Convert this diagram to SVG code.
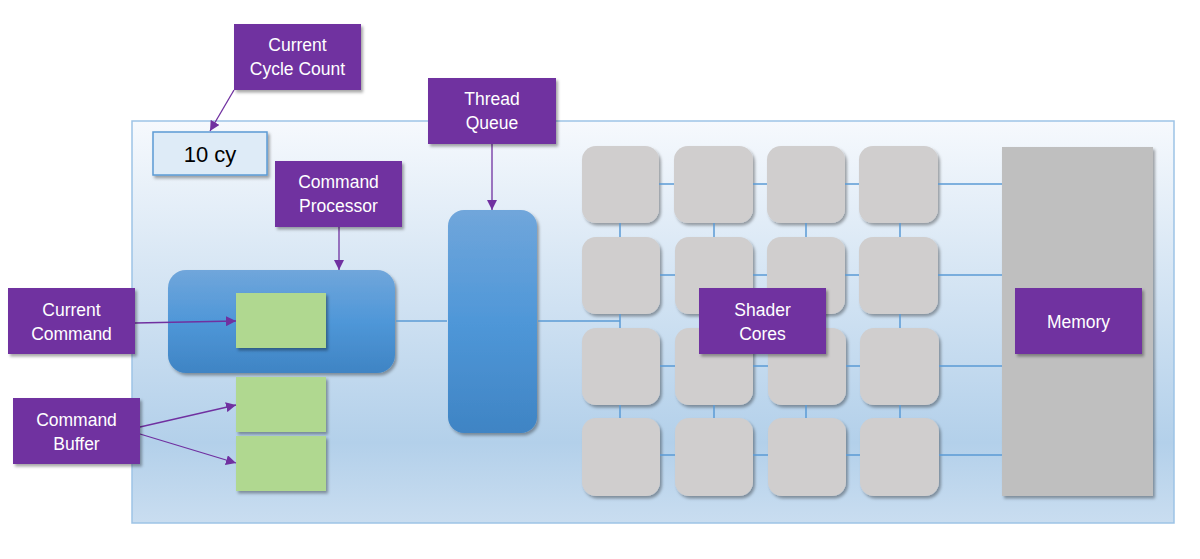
<svg xmlns="http://www.w3.org/2000/svg" width="1200" height="559" viewBox="0 0 1200 559">
<defs>
<linearGradient id="bg" x1="0" y1="0" x2="0" y2="1">
<stop offset="0" stop-color="#f6f9fd"/>
<stop offset="0.8" stop-color="#b3d0ea"/>
<stop offset="1" stop-color="#c9ddf0"/>
</linearGradient>
<linearGradient id="blue" x1="0" y1="0" x2="0" y2="1">
<stop offset="0" stop-color="#70a6db"/>
<stop offset="0.5" stop-color="#4f97d8"/>
<stop offset="1" stop-color="#3f84c4"/>
</linearGradient>
<filter id="sh" x="-10%" y="-10%" width="130%" height="130%">
<feDropShadow dx="2" dy="2.5" stdDeviation="1.5" flood-color="#000" flood-opacity="0.35"/>
</filter>
<marker id="ah" viewBox="0 0 10 10" refX="10" refY="5" markerWidth="10" markerHeight="10" markerUnits="userSpaceOnUse" orient="auto">
<path d="M0,0 L10,5 L0,10 z" fill="#7030a0"/>
</marker>
<style>
.lbl{fill:#7030a0;filter:url(#sh)}
.lt{fill:#fff;font-family:"Liberation Sans","Noto Sans",sans-serif;font-size:17.5px;text-anchor:middle}
.core{fill:#d0cece;filter:url(#sh)}
.grn{fill:#b0d890;filter:url(#sh)}
.wire{stroke:#5b9bd5;stroke-width:1.5;fill:none}
.arr{stroke:#7030a0;stroke-width:1.3;fill:none;marker-end:url(#ah)}
</style>
</defs>
<rect x="0" y="0" width="1200" height="559" fill="#fff"/>
<g id="container">
<rect x="132" y="121" width="1042" height="402" fill="url(#bg)" stroke="#9dc3e6" stroke-width="1.5"/>
</g>
<g id="memory">
<rect x="1002" y="147" width="151" height="349" fill="#bfbfbf" filter="url(#sh)"/>
</g>
<g id="shader-cores">
<rect class="core" x="582" y="146" width="77" height="77" rx="14"/>
<rect class="core" x="674" y="146" width="79" height="77" rx="14"/>
<rect class="core" x="767" y="146" width="78" height="77" rx="14"/>
<rect class="core" x="859" y="146" width="79" height="77" rx="14"/>
<rect class="core" x="582" y="237" width="78" height="77" rx="14"/>
<rect class="core" x="675" y="237" width="78" height="77" rx="14"/>
<rect class="core" x="767" y="237" width="78" height="77" rx="14"/>
<rect class="core" x="859" y="237" width="79" height="77" rx="14"/>
<rect class="core" x="582" y="328" width="78" height="77" rx="14"/>
<rect class="core" x="675" y="328" width="78" height="77" rx="14"/>
<rect class="core" x="768" y="328" width="78" height="77" rx="14"/>
<rect class="core" x="860" y="328" width="79" height="77" rx="14"/>
<rect class="core" x="582" y="418" width="78" height="78" rx="14"/>
<rect class="core" x="675" y="418" width="78" height="78" rx="14"/>
<rect class="core" x="768" y="418" width="78" height="78" rx="14"/>
<rect class="core" x="860" y="418" width="79" height="78" rx="14"/>
</g>
<g id="thread-queue">
<rect x="448" y="210" width="89" height="223" rx="16" fill="url(#blue)" filter="url(#sh)"/>
</g>
<g id="command-processor">
<rect x="168" y="270" width="227" height="103" rx="18" fill="url(#blue)" filter="url(#sh)"/>
</g>
<g id="command-slots">
<rect class="grn" x="236" y="293" width="90" height="55"/>
<rect class="grn" x="236" y="377" width="90" height="55"/>
<rect class="grn" x="236" y="436" width="90" height="55"/>
</g>
<g id="cycle-counter">
<rect x="153" y="132" width="114" height="43" fill="#deebf7" stroke="#5b9bd5" stroke-width="1.5" filter="url(#sh)"/>
<text x="210" y="162" font-family="'Liberation Sans','Noto Sans',sans-serif" font-size="22" text-anchor="middle" fill="#000">10 cy</text>
</g>
<g id="connectors">
<path class="wire" d="M396,321 H447"/>
<path class="wire" d="M538,321 H620"/>
<path class="wire" d="M620,223 V237 M620,314 V328 M620,405 V418 M714,223 V237 M714,314 V328 M714,405 V418 M806,223 V237 M806,314 V328 M806,405 V418 M900,223 V237 M900,314 V328 M900,405 V418"/>
<path class="wire" d="M659,184 H674 M753,184 H767 M845,184 H859 M938,184 H1002 M660,275 H675 M753,275 H767 M845,275 H859 M938,275 H1002 M660,366 H675 M753,366 H768 M846,366 H860 M939,366 H1002 M660,455 H675 M753,455 H768 M846,455 H860 M939,455 H1002"/>
<path class="arr" d="M234,90 L210,131"/>
<path class="arr" d="M339,227 L339,270"/>
<path class="arr" d="M492,144 L492,210"/>
<path class="arr" d="M135,323 L236,321"/>
<path class="arr" d="M140,427 L236,405"/>
<path class="arr" d="M140,434 L236,463"/>
</g>
<g id="label-cycle-count">
<rect class="lbl" x="234" y="24" width="127" height="66"/>
<text class="lt" x="297.5" y="51">Current</text>
<text class="lt" x="297.5" y="75">Cycle Count</text>
</g>
<g id="label-command-processor">
<rect class="lbl" x="275" y="161" width="127" height="66"/>
<text class="lt" x="338.5" y="188">Command</text>
<text class="lt" x="338.5" y="212">Processor</text>
</g>
<g id="label-thread-queue">
<rect class="lbl" x="428" y="78" width="128" height="66"/>
<text class="lt" x="492" y="105">Thread</text>
<text class="lt" x="492" y="129">Queue</text>
</g>
<g id="label-current-command">
<rect class="lbl" x="8" y="288" width="127" height="66"/>
<text class="lt" x="71.5" y="316">Current</text>
<text class="lt" x="71.5" y="340">Command</text>
</g>
<g id="label-command-buffer">
<rect class="lbl" x="13" y="398" width="127" height="66"/>
<text class="lt" x="76.5" y="426">Command</text>
<text class="lt" x="76.5" y="450">Buffer</text>
</g>
<g id="label-shader-cores">
<rect class="lbl" x="699" y="288" width="127" height="66"/>
<text class="lt" x="762.5" y="316">Shader</text>
<text class="lt" x="762.5" y="340">Cores</text>
</g>
<g id="label-memory">
<rect class="lbl" x="1015" y="288" width="127" height="66"/>
<text class="lt" x="1078.5" y="328">Memory</text>
</g>
</svg>
